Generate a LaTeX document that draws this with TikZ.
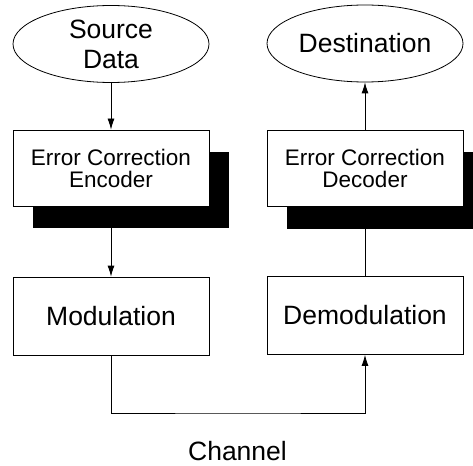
\documentclass[tikz,border=0pt]{standalone}
\usepackage{fontspec}
\setmainfont{Liberation Sans}
\usetikzlibrary{shapes.geometric,arrows.meta,shadows}
\begin{document}
\begin{tikzpicture}[x=1pt,y=-1pt,
  line width=0.8pt,
  big/.style={font=\fontsize{26.5}{30}\selectfont},
  small/.style={font=\fontsize{22.5}{22}\selectfont},
  term/.style={draw, ellipse, minimum width=196pt, minimum height=77pt, inner sep=0pt, big, align=center},
  blk/.style={draw, rectangle, fill=white, minimum width=196pt, minimum height=76pt, inner sep=0pt, align=center},
  shad/.style={drop shadow={shadow xshift=20pt, shadow yshift=-22pt, fill=black, opacity=1}},
  arr/.style={-{Latex[length=11pt,width=7pt]}}
]
\useasboundingbox (0,0) rectangle (473,465);
\node[term] (src) at (111,44) {Source\\Data};
\node[term] (dst) at (365,43.5) {Destination};
\node[blk, shad, small] (enc) at (111,168) {Error Correction\\Encoder};
\node[blk, shad, small] (dec) at (365,168.5) {Error Correction\\Decoder};
\node[blk, big, minimum height=78pt] (mod) at (111,316) {Modulation};
\node[blk, big, minimum height=78pt] (dem) at (365,315.5) {Demodulation};
\node[big, anchor=base] (chl) at (237.5,460) {Channel};
\coordinate (chb) at (237.5,413);
\draw[arr] (src.south) -- (enc.north);
\draw[arr] (enc.south) -- (mod.north);
\draw (dem.north) -- (dec.south);
\draw[arr] (dec.north) -- (dst.south);
\draw[arr] (mod.south) |- (chb) -| (dem.south);
\end{tikzpicture}
\end{document}
